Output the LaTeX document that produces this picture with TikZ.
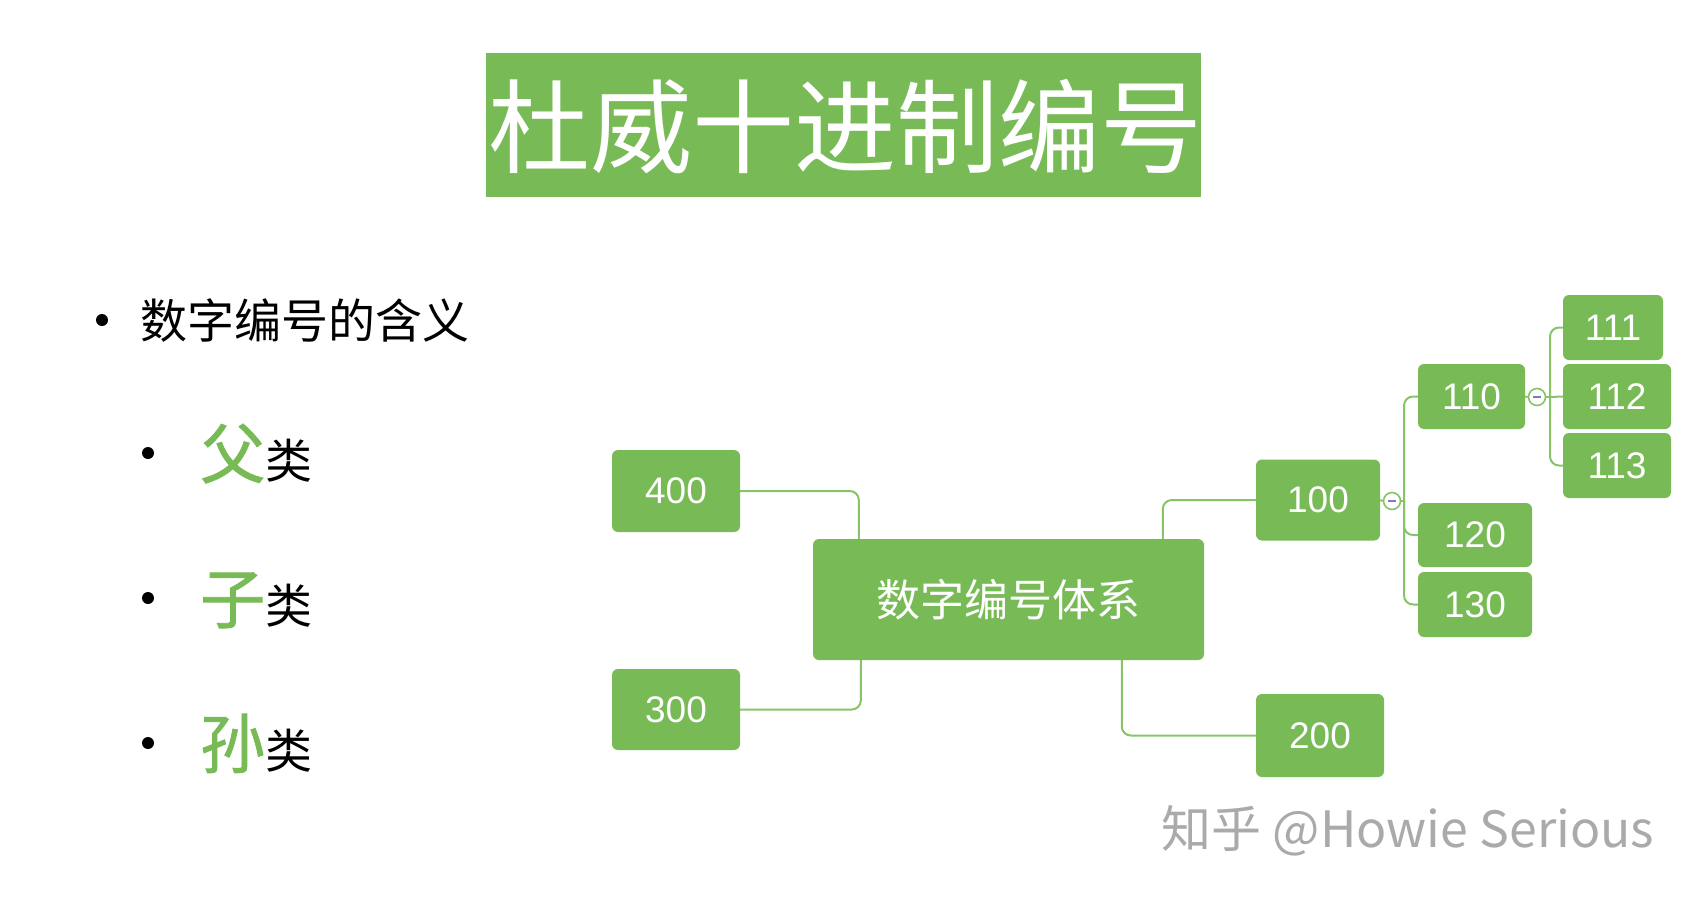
\documentclass[tikz,border=0pt]{standalone}
\usepackage{fontspec}
\setmainfont{Noto Sans CJK SC}
\newfontfamily\digitfont{Liberation Sans}
\newfontfamily\greenfont[FakeBold=1.2]{Noto Sans CJK SC}
\usetikzlibrary{calc}
\definecolor{leaf}{RGB}{120,187,86}
\definecolor{linkc}{RGB}{134,196,104}
\definecolor{minusc}{RGB}{130,120,190}
\definecolor{wm}{RGB}{170,170,170}
\tikzset{
  box/.style={fill=leaf, rounded corners=6pt, text=white, inner sep=0pt, align=center,
    font=\digitfont\fontsize{37}{37}\selectfont},
  conn/.style={draw=linkc, line width=2pt, rounded corners=9pt},
  fold/.style={circle, draw=linkc, line width=1.6pt, fill=white, minimum size=17pt, inner sep=0pt},
  dotb/.style={circle, fill=black, minimum size=12pt, inner sep=0pt},
}
\begin{document}
\begin{tikzpicture}[x=1pt,y=-1pt]
\useasboundingbox (0,0) rectangle (1698,898);
% title
\node[fill=leaf, minimum width=715pt, minimum height=144pt, inner sep=0pt] (title) at (843.5,125) {};
\node[text=white, inner sep=0pt, font=\fontsize{102}{102}\selectfont] (titletext) at (845,127) {杜威十进制编号};
% bullets
\node[dotb] (b0) at (102,320) {};
\node[anchor=west, inner sep=0pt, font=\fontsize{47}{47}\selectfont] (t0) at (140,321) {数字编号的含义};
\node[dotb] (b1) at (148,453) {};
\node[anchor=base west, inner sep=0pt] (t1) at (200,478) {{\greenfont\fontsize{65}{65}\selectfont\color{leaf}父}{\fontsize{47}{47}\selectfont 类}};
\node[dotb] (b2) at (148,598) {};
\node[anchor=base west, inner sep=0pt] (t2) at (200,623) {{\greenfont\fontsize{65}{65}\selectfont\color{leaf}子}{\fontsize{47}{47}\selectfont 类}};
\node[dotb] (b3) at (148,743) {};
\node[anchor=base west, inner sep=0pt] (t3) at (200,768) {{\greenfont\fontsize{65}{65}\selectfont\color{leaf}孙}{\fontsize{47}{47}\selectfont 类}};
% mind map nodes
\node[box, minimum width=391pt, minimum height=121pt, font=\fontsize{44}{44}\selectfont] (center) at (1008.5,599.5) {数字编号体系};
\node[box, minimum width=128pt, minimum height=82pt] (n400) at (676,491) {400};
\node[box, minimum width=128pt, minimum height=81pt] (n300) at (676,709.5) {300};
\node[box, minimum width=124pt, minimum height=81pt] (n100) at (1318,500) {100};
\node[box, minimum width=128pt, minimum height=83pt] (n200) at (1320,735.5) {200};
\node[box, minimum width=107pt, minimum height=65pt] (n110) at (1471.5,396.5) {110};
\node[box, minimum width=114pt, minimum height=64pt] (n120) at (1475,535) {120};
\node[box, minimum width=114pt, minimum height=65pt] (n130) at (1475,604.5) {130};
\node[box, minimum width=100pt, minimum height=65pt] (n111) at (1613,327.5) {111};
\node[box, minimum width=108pt, minimum height=65pt] (n112) at (1617,396.5) {112};
\node[box, minimum width=108pt, minimum height=65pt] (n113) at (1617,465.5) {113};
% connectors from center
\draw[conn] (n400.east) -| ($(center.north west)+(46,0)$);
\draw[conn] (n300.east) -| ($(center.south west)+(48,0)$);
\draw[conn] (n100.west) -| ($(center.north west)+(350,0)$);
\draw[conn] (n200.west) -| ($(center.south west)+(309,0)$);
% fold circles
\node[fold] (c100) at (1392,501) {};
\node[fold] (c110) at (1537,397) {};
\coordinate (sp100) at (1404,501);
\coordinate (sp110) at (1550,397);
\draw[conn] (n100.east) -- (c100.west);
\draw[conn] (c100.east) -- (sp100);
\draw[conn] (sp100) |- (n110.west);
\draw[conn] (sp100) |- (n120.west);
\draw[conn] (sp100) |- (n130.west);
\draw[conn] (n110.east) -- (c110.west);
\draw[conn] (c110.east) -- (sp110);
\draw[conn] (sp110) |- (n111.west);
\draw[conn] (sp110) -- (n112.west);
\draw[conn] (sp110) |- (n113.west);
\draw[minusc, line width=1.6pt] ($(c100.center)+(-4,0)$) -- ($(c100.center)+(4,0)$);
\draw[minusc, line width=1.6pt] ($(c110.center)+(-4,0)$) -- ($(c110.center)+(4,0)$);
% watermark
\node[text=wm, inner sep=0pt, font=\fontsize{50}{50}\selectfont] (wmark) at (1408,831) {知乎 @Howie Serious};
\end{tikzpicture}
\end{document}
